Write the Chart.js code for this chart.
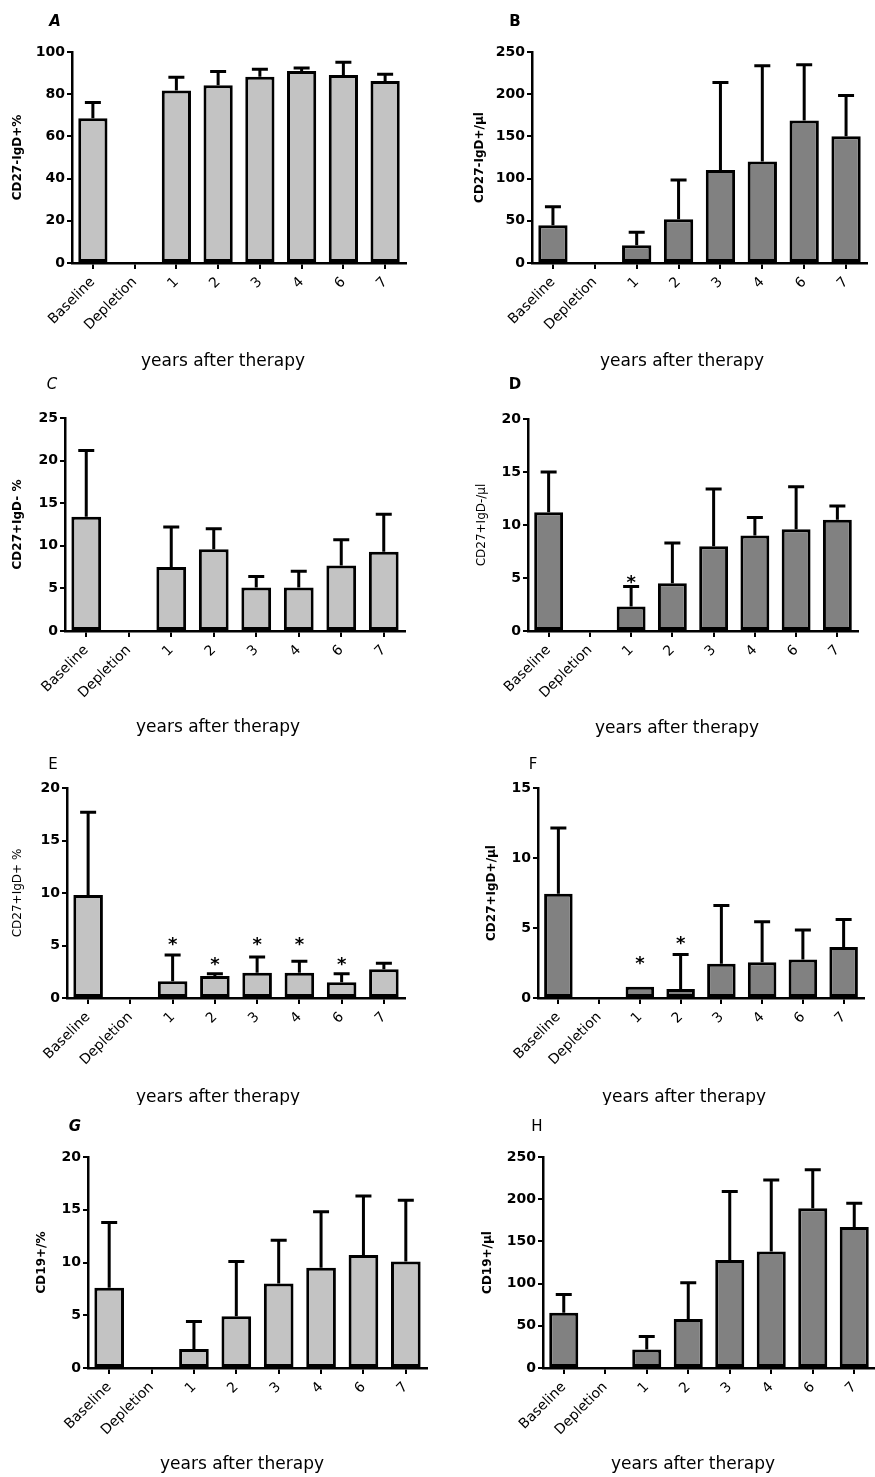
<!DOCTYPE html>
<html>
<head>
<meta charset="utf-8">
<script src="https://cdn.jsdelivr.net/npm/chart.js@4.4.1/dist/chart.umd.min.js"></script>
<style>
  html, body { margin: 0; padding: 0; background: #fff; }
  #wrap { position: relative; width: 875px; height: 1477px; overflow: hidden; }
  canvas { position: absolute; }
</style>
</head>
<body>
<div id="wrap"></div>
<script>
// categories shared by every panel
const categories = ["Baseline", "Depletion", "1", "2", "3", "4", "6", "7"];

// bar heights (mean) and tops of the upper error bars
const valuesA = [68.6, null, 81.8, 84.2, 88.3, 91.0, 89.1, 86.2];
const upperA  = [76.1, null, 88.0, 90.8, 91.8, 92.4, 95.1, 89.4];

const valuesB = [44.8, null, 21.0, 51.9, 110.1, 120.4, 168.8, 150.2];
const upperB  = [66.6, null, 36.5, 98.3, 213.9, 233.8, 235.0, 198.5];

const valuesC = [13.4, null, 7.5, 9.6, 5.1, 5.1, 7.7, 9.3];
const upperC  = [21.2, null, 12.2, 12.0, 6.4, 7.0, 10.7, 13.7];

const valuesD = [11.2, null, 2.3, 4.5, 8.0, 9.0, 9.6, 10.5];
const upperD  = [15.0, null, 4.2, 8.3, 13.4, 10.7, 13.6, 11.8];
const starsD  = [null, null, 4.85, null, null, null, null, null];

const valuesE = [9.8, null, 1.6, 2.1, 2.4, 2.4, 1.5, 2.75];
const upperE  = [17.7, null, 4.1, 2.3, 3.9, 3.5, 2.3, 3.3];
const starsE  = [null, null, 5.4, 3.5, 5.4, 5.4, 3.5, null];

const valuesF = [7.45, null, 0.8, 0.65, 2.45, 2.55, 2.75, 3.65];
const upperF  = [12.15, null, 0.85, 3.1, 6.6, 5.45, 4.85, 5.6];
const starsF  = [null, null, 2.7, 4.15, null, null, null, null];

const valuesG = [7.6, null, 1.8, 4.9, 8.0, 9.5, 10.7, 10.1];
const upperG  = [13.8, null, 4.4, 10.1, 12.1, 14.8, 16.3, 15.9];

const valuesH = [65.4, null, 21.8, 58.2, 128.0, 137.9, 189.4, 167.2];
const upperH  = [87.2, null, 37.2, 101.0, 209.2, 222.7, 235.0, 195.3];

const xTitle = "years after therapy";
const FONT = '"DejaVu Sans", sans-serif';
const LIGHT = "#c3c3c3";
const DARK = "#818181";

// page layout: canvas box [left, top, w, h], plot area, label positions
const panels = [
  { letter: "A", letterPos: [55, 22], letterStyle: "italic bold", box: [0, 0, 435, 370], area: { l: 72, t: 52, r: 406, b: 263 },
    yTitle: "CD27-IgD+%", yTitleX: 18, yBold: true, max: 100, step: 20, color: LIGHT, values: valuesA, upper: upperA, stars: null, xTitlePos: [223, 362] },
  { letter: "B", letterPos: [515, 22], letterStyle: "bold", box: [435, 0, 440, 370], area: { l: 532, t: 52, r: 867, b: 263 },
    yTitle: "CD27-IgD+/\u00b5l", yTitleX: 45, yBold: true, max: 250, step: 50, color: DARK, values: valuesB, upper: upperB, stars: null, xTitlePos: [682, 362] },
  { letter: "C", letterPos: [52, 385], letterStyle: "italic", box: [0, 370, 435, 370], area: { l: 65, t: 418, r: 405, b: 631 },
    yTitle: "CD27+IgD- %", yTitleX: 18, yBold: true, max: 25, step: 5, color: LIGHT, values: valuesC, upper: upperC, stars: null, xTitlePos: [218, 728] },
  { letter: "D", letterPos: [515, 385], letterStyle: "bold", box: [435, 370, 440, 370], area: { l: 528, t: 419, r: 858, b: 631 },
    yTitle: "CD27+IgD-/\u00b5l", yTitleX: 47, yBold: false, max: 20, step: 5, color: DARK, values: valuesD, upper: upperD, stars: starsD, xTitlePos: [677, 729] },
  { letter: "E", letterPos: [53, 765], letterStyle: "normal", box: [0, 740, 435, 365], area: { l: 67, t: 788, r: 405, b: 998 },
    yTitle: "CD27+IgD+ %", yTitleX: 18, yBold: false, max: 20, step: 5, color: LIGHT, values: valuesE, upper: upperE, stars: starsE, xTitlePos: [218, 1098] },
  { letter: "F", letterPos: [533, 765], letterStyle: "normal", box: [435, 740, 440, 365], area: { l: 538, t: 788, r: 864, b: 998 },
    yTitle: "CD27+IgD+/\u00b5l", yTitleX: 57, yBold: true, max: 15, step: 5, color: DARK, values: valuesF, upper: upperF, stars: starsF, xTitlePos: [684, 1098] },
  { letter: "G", letterPos: [75, 1127], letterStyle: "italic bold", box: [0, 1105, 435, 372], area: { l: 88, t: 1157, r: 427, b: 1368 },
    yTitle: "CD19+/%", yTitleX: 42, yBold: true, max: 20, step: 5, color: LIGHT, values: valuesG, upper: upperG, stars: null, xTitlePos: [242, 1465] },
  { letter: "H", letterPos: [537, 1127], letterStyle: "normal", box: [435, 1105, 440, 372], area: { l: 543, t: 1157, r: 875, b: 1368 },
    yTitle: "CD19+/\u00b5l", yTitleX: 53, yBold: true, max: 250, step: 50, color: DARK, values: valuesH, upper: upperH, stars: null, xTitlePos: [693, 1465] }
];

const wrap = document.getElementById("wrap");

function makePanel(p) {
  const [cl, ct, cw, ch] = p.box;
  const cv = document.createElement("canvas");
  cv.width = cw;
  cv.height = ch;
  cv.style.left = cl + "px";
  cv.style.top = ct + "px";
  cv.style.width = cw + "px";
  cv.style.height = ch + "px";
  wrap.appendChild(cv);

  const yWidth = p.area.l - cl;
  const xHeight = ct + ch - p.area.b;

  // error bars, significance stars, panel letter and x title
  const decor = {
    id: "decor" + p.letter,
    afterDatasetsDraw(chart) {
      const ctx = chart.ctx;
      const y = chart.scales.y;
      const meta = chart.getDatasetMeta(0);
      ctx.save();
      ctx.strokeStyle = "#000";
      ctx.lineWidth = 3;
      ctx.lineCap = "butt";
      p.values.forEach((v, i) => {
        if (v == null || p.upper[i] == null) return;
        const bar = meta.data[i];
        const top = y.getPixelForValue(p.upper[i]);
        if (bar.y - top < 2) return;
        ctx.beginPath();
        ctx.moveTo(bar.x, bar.y);
        ctx.lineTo(bar.x, top);
        ctx.moveTo(bar.x - 8, top);
        ctx.lineTo(bar.x + 8, top);
        ctx.stroke();
      });
      if (p.stars) {
        ctx.fillStyle = "#000";
        ctx.font = "bold 18px " + FONT;
        ctx.textAlign = "center";
        ctx.textBaseline = "middle";
        p.stars.forEach((s, i) => {
          if (s == null) return;
          ctx.fillText("*", meta.data[i].x, y.getPixelForValue(s) + 4);
        });
      }
      ctx.fillStyle = "#000";
      ctx.textAlign = "center";
      ctx.textBaseline = "middle";
      ctx.font = p.letterStyle + " 15px " + FONT;
      ctx.fillText(p.letter, p.letterPos[0] - cl, p.letterPos[1] - ct);
      ctx.font = "17px " + FONT;
      ctx.fillText(xTitle, p.xTitlePos[0] - cl, p.xTitlePos[1] - ct);
      ctx.restore();
    }
  };

  new Chart(cv, {
    type: "bar",
    data: {
      labels: categories,
      datasets: [{
        data: p.values,
        backgroundColor: p.color,
        borderColor: "#000",
        borderWidth: 3,
        borderSkipped: false,
        categoryPercentage: 1,
        barPercentage: 0.7
      }]
    },
    options: {
      responsive: false,
      animation: false,
      layout: { padding: { top: p.area.t - ct, right: cl + cw - p.area.r, left: 0, bottom: 0 } },
      plugins: { legend: { display: false }, tooltip: { enabled: false } },
      scales: {
        x: {
          grid: { display: true, drawOnChartArea: false, offset: false, color: "#000", lineWidth: 2, tickLength: 6 },
          border: { display: true, color: "#000", width: 2.5 },
          ticks: { color: "#000", font: { family: FONT, size: 14 }, minRotation: 45, maxRotation: 45, autoSkip: false, padding: 5 },
          afterFit: (s) => { s.height = xHeight; }
        },
        y: {
          min: 0,
          max: p.max,
          ticks: { stepSize: p.step, color: "#000", font: { family: FONT, size: 14, weight: "bold" }, padding: 2 },
          grid: { drawOnChartArea: false, color: "#000", lineWidth: 2, tickLength: 5 },
          border: { display: true, color: "#000", width: 2.5 },
          title: {
            display: true,
            text: p.yTitle,
            color: "#000",
            font: { family: FONT, size: 12, weight: p.yBold ? "bold" : "normal", lineHeight: 1 },
            padding: { top: p.yTitleX - 6, bottom: 0 }
          },
          afterFit: (s) => { s.width = yWidth; }
        }
      }
    },
    plugins: [decor]
  });
}

panels.forEach(makePanel);
</script>
</body>
</html>
